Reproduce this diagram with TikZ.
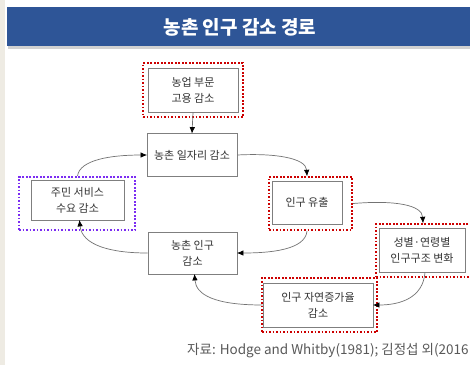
\documentclass[tikz,border=0pt]{standalone}
\usepackage{fontspec}
\setmainfont{Noto Sans CJK KR}
\usetikzlibrary{arrows.meta}
\definecolor{titleblue}{HTML}{2E5597}
\definecolor{redot}{HTML}{CC0000}
\definecolor{purdot}{HTML}{7B2CF2}
\definecolor{boxline}{HTML}{7F7F7F}
\definecolor{cream}{HTML}{EEEBE3}
\definecolor{capgray}{HTML}{595959}
\begin{document}
\begin{tikzpicture}[x=1pt,y=-1pt,
  box/.style={draw=boxline,line width=0.8pt,fill=white,inner sep=0pt,align=center,
    font=\fontsize{11}{16}\selectfont,text=black!80},
  reddot/.style={draw=redot,line width=2.4pt,dash pattern=on 1.7pt off 1.8pt,inner sep=0pt},
  purpledot/.style={draw=purdot,line width=2.4pt,dash pattern=on 1.7pt off 1.8pt,inner sep=0pt},
  conn/.style={draw=black!55,line width=0.7pt,-{Latex[length=6.5pt,width=5.5pt,black]},shorten >=-0.5pt}]
\useasboundingbox (0,0) rectangle (470,365);
\fill[white] (0,0) rectangle (470,365);
\fill[cream] (0,0) rectangle (5,365);
% title
\fill[black!18] (8,9) rectangle (472,49);
\fill[titleblue] (7,7) rectangle (472,46);
\node[text=white,font=\fontsize{19}{22}\selectfont\bfseries] (title) at (240,27) {농촌 인구 감소 경로};
% outer dotted frames
\node[reddot,minimum width=100pt,minimum height=54pt] (o1) at (193,90) {};
\node[purpledot,minimum width=116pt,minimum height=53pt] (o3) at (77,203.5) {};
\node[reddot,minimum width=83pt,minimum height=53pt] (o5) at (310.5,203.5) {};
\node[reddot,minimum width=100pt,minimum height=53pt] (o6) at (426,250.5) {};
\node[reddot,minimum width=115pt,minimum height=54pt] (o7) at (319.5,305) {};
% boxes
\node[box,minimum width=90pt,minimum height=44pt] (n1) at (193,90) {농업 부문\\고용 감소};
\node[box,minimum width=90pt,minimum height=43pt] (n2) at (192,155) {농촌 일자리 감소};
\node[box,minimum width=93pt,minimum height=40pt] (n3) at (77.5,200) {주민 서비스\\수요 감소};
\node[box,minimum width=89pt,minimum height=42pt] (n4) at (192.5,253) {농촌 인구\\감소};
\node[box,minimum width=70pt,minimum height=43pt] (n5) at (307,202.5) {인구 유출};
\node[box,minimum width=86pt,minimum height=44pt] (n6) at (422,250) {성별·연령별\\인구구조 변화};
\node[box,minimum width=110pt,minimum height=44pt] (n7) at (318,305) {인구 자연증가율\\감소};
% connectors
\draw[conn] (n1.south) -- (n2.north);
\draw[conn] (n2.east) .. controls (275,153) and (306,158) .. (n5.north |- o5.north);
\draw[conn] (o5.east) .. controls (395,200) and (422,205) .. ([xshift=1pt]n6.north |- o6.north);
\draw[conn] ([xshift=3pt]n6.south) .. controls (423,298) and (400,305) .. (n7.east);
\draw[conn] (n7.west) .. controls (215,305) and (196,295) .. ([xshift=2pt]n4.south);
\draw[conn] (n5.south |- o5.south) .. controls (305,250) and (270,253) .. (n4.east);
\draw[conn] (n4.west) .. controls (110,253) and (82,245) .. ([xshift=2pt]n3.south);
\draw[conn] (n3.north |- o3.north) .. controls (80,160) and (110,155) .. (n2.west);
% caption
\node[anchor=west,text=capgray,font=\fontsize{13.5}{16}\selectfont,inner sep=0pt] (cap) at (187,351) {자료: Hodge and Whitby(1981); 김정섭 외(2016};
\end{tikzpicture}
\end{document}
